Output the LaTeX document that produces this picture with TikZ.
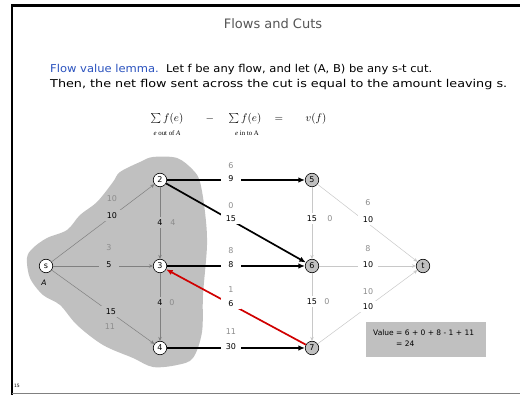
\documentclass[tikz,border=0pt]{standalone}
\usepackage{graphicx}
\usepackage{fontspec}
\setmainfont{DejaVu Sans}
\newfontfamily\subserif{Liberation Serif}
\usetikzlibrary{arrows.meta}
\definecolor{blobgray}{HTML}{C0C0C0}
\definecolor{nodegray}{HTML}{C0C0C0}
\definecolor{ingray}{HTML}{808080}
\definecolor{outgray}{HTML}{C8C8C8}
\definecolor{lblgray}{HTML}{8C8C8C}
\definecolor{titlegray}{HTML}{555555}
\definecolor{lemmablue}{HTML}{2A52BE}
\definecolor{cutred}{HTML}{D00000}
\begin{document}
\begin{tikzpicture}[x=1pt,y=-1pt,
  vtx/.style={circle,draw,line width=0.6pt,inner sep=0pt,minimum size=13.5pt,font=\fontsize{8}{8}\selectfont},
  wvtx/.style={vtx,fill=white},
  gvtx/.style={vtx,fill=nodegray},
  inedge/.style={draw=ingray,line width=0.5pt,-{Stealth[length=4pt,width=3.5pt]}},
  outedge/.style={draw=outgray,line width=0.5pt,-{Stealth[length=4pt,width=3.5pt]}},
  cutedge/.style={draw=black,line width=1.7pt,-{Latex[length=6.5pt,width=5.5pt]}},
  redge/.style={draw=cutred,line width=1.7pt,-{Latex[length=6.5pt,width=5.5pt]}},
  blab/.style={font=\fontsize{8}{8}\selectfont,inner sep=0pt,minimum width=20pt,minimum height=11pt},
  bin/.style={blab,fill=blobgray},
  bout/.style={blab,fill=white},
  glab/.style={font=\fontsize{8}{8}\selectfont,inner sep=0pt,text=lblgray},
  fml/.style={font=\fontsize{11}{11}\selectfont,inner sep=0pt},
  fsub/.style={font=\subserif\fontsize{6.8}{7}\selectfont,inner sep=0pt},
  body/.style={anchor=west,font=\fontsize{10.8}{13}\selectfont,inner sep=0pt},
]
\useasboundingbox (0,0) rectangle (520,395);
% frame
\draw[line width=2.3pt] (12.2,395) -- (12.2,5.5) -- (520,5.5);
\draw[gray,line width=0.8pt] (12.2,393.8) -- (520,393.8);
% title and text
\node[font=\fontsize{13}{14}\selectfont,text=titlegray] (title) at (273,24) {Flows and Cuts};
\node[body] (line1) at (50,70) {\resizebox{382pt}{\height}{\textcolor{lemmablue}{Flow value lemma.}\ \ Let f be any flow, and let (A, B) be any s-t cut.}};
\node[body] (line2) at (50,85) {\resizebox{457pt}{\height}{Then, the net flow sent across the cut is equal to the amount leaving s.}};
% formula
\node[fml] (f1) at (167,119) {$\textstyle\sum f(e)$};
\node[fml] (fm) at (210,119) {$-$};
\node[fml] (f2) at (245,119) {$\textstyle\sum f(e)$};
\node[fml] (fe) at (279,119) {$=$};
\node[fml] (f3) at (316,119) {$v(f)$};
\node[fsub] (s1) at (167,133) {\textit{e} out of \textit{A}};
\node[fsub] (s2) at (247,133) {\textit{e} in to A};
% blob
\fill[blobgray] plot[smooth cycle,tension=0.55] coordinates {
 (153,157) (177,158) (193,170) (200,182) (205,212) (207,245) (203,295) (202,332)
 (193,358) (177,365) (153,367) (133,358) (103,345) (77,325) (60,305) (43,295)
 (30,278) (27,258) (33,248) (47,238) (67,230) (80,215) (97,202) (113,182)
 (120,172) (140,162)};
% nodes
\node[wvtx] (s) at (46,266) {s};
\node[wvtx] (n2) at (160,180) {2};
\node[wvtx] (n3) at (160,266) {3};
\node[wvtx] (n4) at (160,348) {4};
\node[gvtx] (n5) at (312,180) {5};
\node[gvtx] (n6) at (312,266) {6};
\node[gvtx] (n7) at (312,348) {7};
\node[gvtx] (t) at (423,266) {t};
\node[font=\itshape\fontsize{7.5}{8}\selectfont,inner sep=0pt] (A) at (44,283) {A};
% edges
\draw[inedge] (s) -- (n2);
\draw[inedge] (s) -- (n3);
\draw[inedge] (s) -- (n4);
\draw[inedge] (n2) -- (n3);
\draw[inedge] (n3) -- (n4);
\draw[outedge] (n5) -- (n6);
\draw[outedge] (n6) -- (n7);
\draw[outedge] (n5) -- (t);
\draw[outedge] (n6) -- (t);
\draw[outedge] (n7) -- (t);
\draw[cutedge] (n2) -- (n5);
\draw[cutedge] (n2) -- (n6);
\draw[cutedge] (n3) -- (n6);
\draw[cutedge] (n4) -- (n7);
\draw[redge] (n7) -- (n3);
% labels inside A
\node[bin] (ls2) at (112,216) {10};  \node[glab] (gs2) at (112,199) {10};
\node[bin] (ls3) at (109,265) {5};   \node[glab] (gs3) at (109,248) {3};
\node[bin] (ls4) at (111,312) {15};  \node[glab] (gs4) at (110,327) {11};
\node[blab,fill=blobgray,minimum width=8pt] (l23) at (160,223) {4}; \node[glab] (g23) at (173,223) {4};
\node[blab,fill=blobgray,minimum width=8pt] (l34) at (160,303) {4}; \node[glab] (g34) at (172,303) {0};
% labels on cut
\node[bout] (l25) at (231,179) {9};  \node[glab] (g25) at (231,166) {6};
\node[bout] (l26) at (231,219) {15}; \node[glab] (g26) at (231,206) {0};
\node[bout] (l36) at (231,265) {8};  \node[glab] (g36) at (231,251) {8};
\node[bout] (l73) at (231,304) {6};  \node[glab] (g73) at (231,290) {1};
\node[bout] (l47) at (231,347) {30}; \node[glab] (g47) at (231,332) {11};
% labels right
\node[blab,fill=white,minimum width=12pt] (l56) at (312,219) {15}; \node[glab] (g56) at (330,219) {0};
\node[blab,fill=white,minimum width=12pt] (l67) at (312,302) {15}; \node[glab] (g67) at (327,302) {0};
\node[bout] (l5t) at (368,220) {10}; \node[glab] (g5t) at (368,203) {6};
\node[bout] (l6t) at (368,265) {10}; \node[glab] (g6t) at (368,249) {8};
\node[bout] (l7t) at (368,307) {10}; \node[glab] (g7t) at (368,292) {10};
% value box
\node[fill=blobgray,minimum width=120pt,minimum height=35pt,inner sep=0pt] (vbox) at (426,339.5) {};
\node[anchor=west,font=\fontsize{7.5}{8}\selectfont,inner sep=0pt] (v1) at (373,333) {Value = 6 + 0 + 8 - 1 + 11};
\node[anchor=west,font=\fontsize{7.5}{8}\selectfont,inner sep=0pt] (v2) at (396,344) {= 24};
% page number
\node[font=\fontsize{4.5}{5}\selectfont,inner sep=0pt] (pg) at (17,386) {15};
\end{tikzpicture}
\end{document}
